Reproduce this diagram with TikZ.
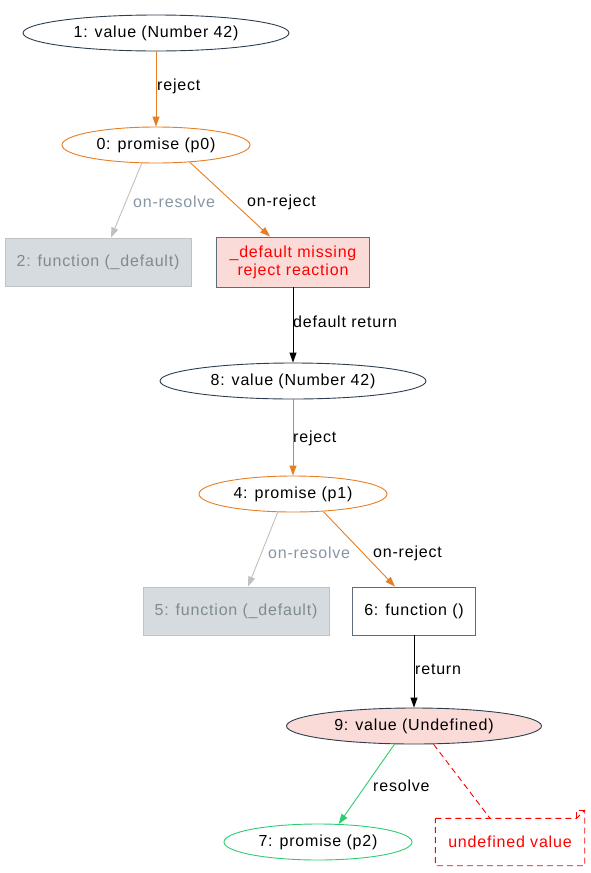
\documentclass[tikz,border=0pt]{standalone}
\usepackage{fontspec}
\setmainfont[LetterSpace=5]{Liberation Sans}
\usetikzlibrary{shapes.geometric,arrows.meta}
\definecolor{navy}{HTML}{2C3E50}
\definecolor{orng}{HTML}{E67E22}
\definecolor{gedge}{HTML}{C0C0C0}
\definecolor{gfill}{HTML}{D5DBDF}
\definecolor{gline}{HTML}{BDC3C7}
\definecolor{gtext}{HTML}{7F8C8D}
\definecolor{glabel}{HTML}{8796A4}
\definecolor{pink}{HTML}{FADBD8}
\definecolor{grn}{HTML}{2ECC71}
\definecolor{boxline}{HTML}{5D6D7E}
\begin{document}
\begin{tikzpicture}[x=1pt,y=-1pt,
  every node/.style={font=\fontsize{16pt}{18pt}\selectfont, inner sep=0pt},
  ell/.style={ellipse, draw=navy, line width=0.9pt, minimum height=36pt},
  oell/.style={ellipse, draw=orng, line width=0.9pt, minimum height=36pt, minimum width=188pt},
  gbox/.style={rectangle, draw=gline, fill=gfill, text=gtext, line width=0.9pt, minimum width=186pt, minimum height=48pt},
  arr/.style={-{Triangle[length=10pt,width=7pt]}, line width=0.9pt},
  lbl/.style={anchor=west, text=black},
  glbl/.style={anchor=west, text=glabel},
  ndash/.style={red, dash pattern=on 6pt off 4pt, line width=0.9pt}]
\useasboundingbox (0,0) rectangle (591,873);
\node[ell, minimum width=266pt] (n1) at (156,33) {1: value (Number 42)};
\node[oell] (n0) at (156,145) {0: promise (p0)};
\node[gbox] (n2) at (98,262) {2: function (\_default)};
\node[rectangle, draw=boxline, fill=pink, text=red, line width=0.9pt, minimum width=153pt, minimum height=50pt, align=center] (nd) at (293,262) {\_default missing\\reject reaction};
\node[ell, minimum width=266pt] (n8) at (293,381) {8: value (Number 42)};
\node[oell] (n4) at (293,494) {4: promise (p1)};
\node[gbox] (n5) at (236,611) {5: function (\_default)};
\node[rectangle, draw=boxline, line width=0.9pt, minimum width=123pt, minimum height=48pt] (n6) at (414,611) {6: function ()};
\node[ell, fill=pink, minimum width=255pt] (n9) at (414,726) {9: value (Undefined)};
\node[ellipse, draw=grn, line width=0.9pt, minimum width=188pt, minimum height=36pt] (n7) at (318,842) {7: promise (p2)};
\node[rectangle, text=red, minimum width=149pt, minimum height=47pt] (nt) at (510,842) {undefined value};
\draw[ndash] (nt.north west) -- ([xshift=-8pt]nt.north east) -- ([yshift=8pt]nt.north east) -- (nt.south east) -- (nt.south west) -- cycle;
\draw[ndash] ([xshift=-8pt]nt.north east) -- ([xshift=-8pt,yshift=8pt]nt.north east) -- ([yshift=8pt]nt.north east);

\draw[arr, orng] (n1) -- (n0);
\node[lbl] (l1) at (157,86) {reject};
\draw[arr, gedge] (n0.232) -- ([xshift=13pt]n2.north);
\node[glbl] (l2) at (133,202) {on-resolve};
\draw[arr, orng] (n0.333) -- ([xshift=-23pt]nd.north);
\node[lbl] (l3) at (247,202) {on-reject};
\draw[arr, black] (nd) -- (n8);
\node[lbl] (l4) at (293,322) {default return};
\draw[arr, orng] (n8) -- (n4);
\node[lbl] (l5) at (293,438) {reject};
\draw[arr, gedge] (n4.230) -- ([xshift=12pt]n5.north);
\node[glbl] (l6) at (268,553) {on-resolve};
\draw[arr, orng] (n4.330) -- ([xshift=-19pt]n6.north);
\node[lbl] (l7) at (373,553) {on-reject};
\draw[arr, black] (n6) -- (n9);
\node[lbl] (l8) at (415,669) {return};
\draw[arr, grn] (n9.223) -- (n7.41);
\node[lbl] (l9) at (373,786) {resolve};
\draw[ndash] (n9.317) -- ([xshift=-20pt]nt.north);
\end{tikzpicture}
\end{document}
